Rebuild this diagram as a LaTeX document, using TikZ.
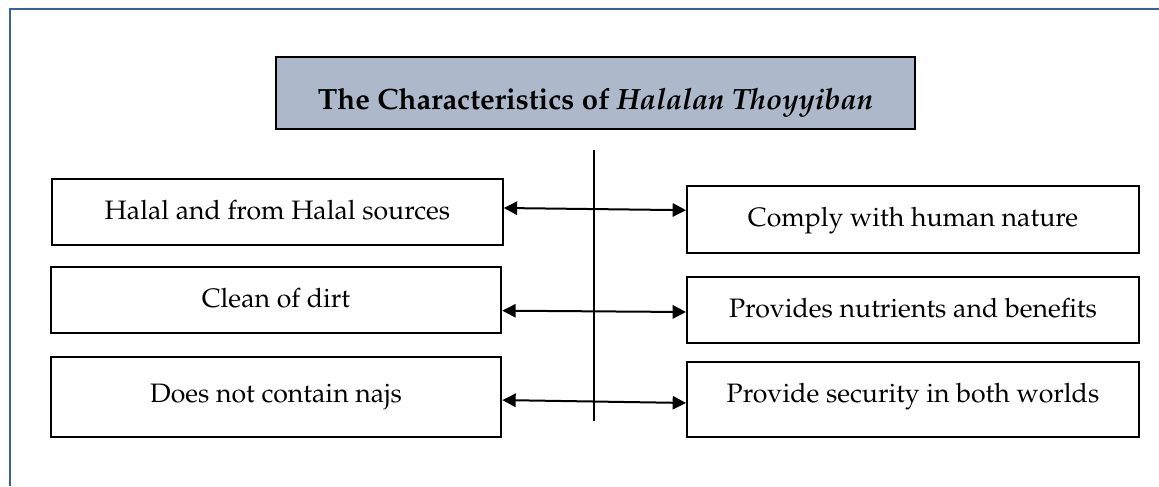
\documentclass[tikz,border=0pt]{standalone}
\usepackage[T1]{fontenc}
\usepackage{mathpazo}
\usetikzlibrary{arrows.meta}
\definecolor{framblue}{RGB}{60,94,158}
\definecolor{titlegray}{RGB}{173,185,202}

\begin{document}
\begin{tikzpicture}[x=0.75pt,y=-0.75pt,
  box/.style={draw,line width=1.5pt,minimum width=338pt,inner sep=0pt,text height=10.5pt,text depth=0pt,font=\fontsize{20}{24}\selectfont},
  twoway/.style={line width=1.5pt,{Triangle[length=10pt,width=10pt]}-{Triangle[length=10pt,width=10pt]}}]
\useasboundingbox (0,0) rectangle (1159,486);
\draw[line width=2pt,color=framblue](10,486)--(10,9)--(1159,9);
\node[box,fill=titlegray,minimum width=479pt,minimum height=54pt,text height=24pt,font=\fontsize{22}{26}\selectfont\bfseries] (title) at (595.5,93)
  {The Characteristics of \textit{Halalan Thoyyiban}};
\node[box,minimum height=49.5pt] (halal) at (277.5,212) {Halal and from Halal sources};
\node[box,minimum height=49.5pt] (clean) at (276,300) {Clean of dirt};
\node[box,minimum height=60pt,text height=7.5pt] (najs) at (276,397) {Does not contain najs};
\node[box,minimum width=339pt,minimum height=50pt,text height=11.2pt] (nature) at (913,219.5) {Comply with human nature};
\node[box,minimum width=339pt,minimum height=49.5pt] (nutrient) at (913,310) {Provides nutrients and benefits};
\node[box,minimum width=339pt,minimum height=56pt,text height=3.8pt] (security) at (913,399.5) {Provide security in both worlds};
\coordinate (spinetop) at (594,150);
\coordinate (spinebot) at (594,421);
\draw[line width=1.1pt](spinetop)--(spinebot);
\draw[twoway]([yshift=3pt]halal.east)--([yshift=7pt]nature.west);
\draw[twoway]([yshift=-8pt]clean.east)--([yshift=-1.5pt]nutrient.west);
\draw[twoway]([yshift=-2.3pt]najs.east)--([yshift=-2.6pt]security.west);
\end{tikzpicture}
\end{document}
